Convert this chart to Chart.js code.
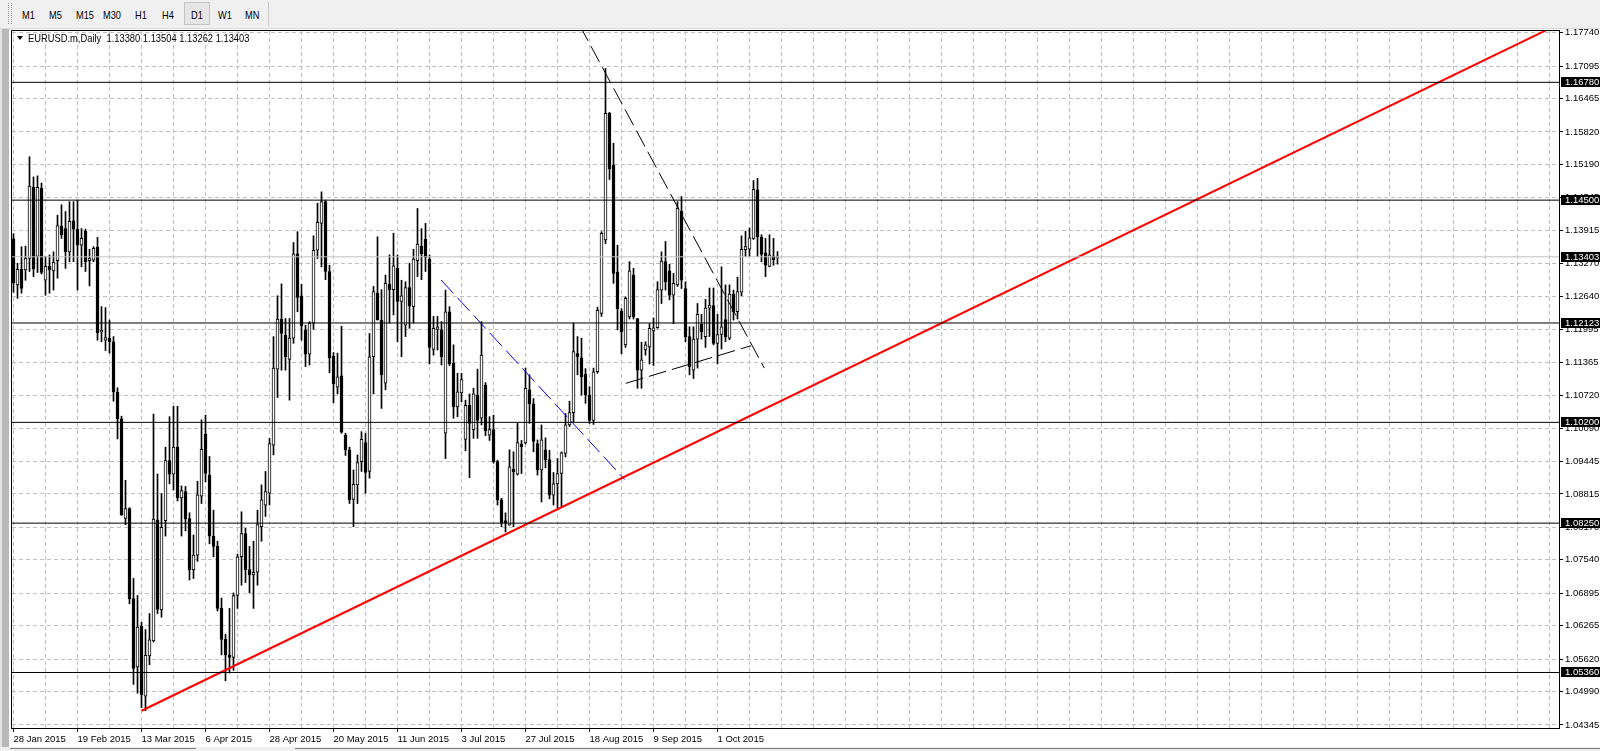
<!DOCTYPE html>
<html>
<head>
<meta charset="utf-8">
<script src="https://cdn.jsdelivr.net/npm/chart.js@4.4.0/dist/chart.umd.min.js"></script>
<style>
html,body{margin:0;padding:0;width:1600px;height:751px;overflow:hidden;background:#fff;}
body{font-family:'Liberation Sans',Arial,sans-serif;}
#c{position:absolute;left:0;top:0;}
#toolbar{position:absolute;left:0;top:0;width:1600px;height:28px;background:#f0f0f0;border-bottom:1px solid #d9d9d9;z-index:3;}
.tab{position:absolute;top:9px;font-size:11px;line-height:12px;color:#000;transform:scaleX(0.84);transform-origin:0 0;}
.grip{position:absolute;left:8px;top:3px;width:2px;height:21px;border-left:1px dotted #9a9a9a;border-right:1px dotted #9a9a9a;}
.pressed{position:absolute;left:184px;top:2px;width:24px;height:21px;background:#e6e6e6;border:1px solid #c4c4c4;}
.sep{position:absolute;left:268px;top:2px;width:0;height:24px;border-left:1px solid #c8c8c8;}
#leftstrip{position:absolute;left:0;top:29px;width:9px;height:722px;background:#b9b9b9;border-left:2px solid #e2e2e2;box-sizing:border-box;z-index:3;}
#bottomstrip{position:absolute;left:0;top:747px;width:1600px;height:4px;background:#f0f0f0;z-index:3;}
#bottomstrip .l1{position:absolute;left:10px;top:1px;width:186px;height:1px;background:#7a7a7a;}
#bottomstrip .l2{position:absolute;left:295px;top:1px;width:1305px;height:1px;background:#7a7a7a;}
#header{position:absolute;left:28px;top:32px;font-size:11px;line-height:12px;color:#000;z-index:3;white-space:pre;transform:scaleX(0.85);transform-origin:0 0;}
#tri{position:absolute;left:17px;top:36px;width:0;height:0;border-left:3px solid transparent;border-right:3px solid transparent;border-top:4px solid #000;z-index:3;}
</style>
</head>
<body>
<canvas id="c" width="1600" height="751"></canvas>
<div id="toolbar">
  <div class="grip"></div>
  <div class="pressed"></div>
  <span class="tab" style="left:22px">M1</span>
  <span class="tab" style="left:49px">M5</span>
  <span class="tab" style="left:76px">M15</span>
  <span class="tab" style="left:103px">M30</span>
  <span class="tab" style="left:135px">H1</span>
  <span class="tab" style="left:162px">H4</span>
  <span class="tab" style="left:191px">D1</span>
  <span class="tab" style="left:218px">W1</span>
  <span class="tab" style="left:245px">MN</span>
  <div class="sep"></div>
</div>
<div id="leftstrip"></div>
<div id="bottomstrip"><div class="l1"></div><div class="l2"></div></div>
<div id="tri"></div>
<div id="header"></div>
<script>
// ---------------- DATA ----------------
const symbolName = 'EURUSD.m';
const timeframeName = 'Daily';

// daily candles, bar 0 = 28 Jan 2015 ... bar 191 = 22 Oct 2015
const opens = [
1.1375,1.1286,1.1316,1.1315,1.1337,1.1475,1.1341,1.1473,1.1295,1.1322,
1.1313,1.1333,1.1400,1.1395,1.1350,1.1410,1.1394,1.1363,1.1390,1.1333,
1.1334,1.1359,1.1195,1.1179,1.1183,1.1176,1.1078,1.1027,1.0834,1.0853,
1.0679,1.0547,1.0626,1.0490,1.0568,1.0597,1.0831,1.0657,1.0830,1.0946,
1.0920,1.0972,1.0874,1.0886,1.0834,1.0735,1.0763,1.0877,1.0997,1.0918,
1.0800,1.0780,1.0660,1.0600,1.0570,1.0565,1.0685,1.0760,1.0805,1.0735,
1.0725,1.0730,1.0818,1.0860,1.0883,1.0976,1.1123,1.1220,1.1189,1.1142,
1.1183,1.1346,1.1265,1.1199,1.1152,1.1212,1.1353,1.1405,1.1447,1.1312,
1.1148,1.1088,1.1110,1.0995,1.0967,1.0871,1.0899,1.0944,1.0981,1.0925,
1.1147,1.1270,1.1218,1.1096,1.1287,1.1277,1.1318,1.1254,1.1208,1.1281,
1.1244,1.1333,1.1361,1.1374,1.1336,1.1161,1.1200,1.1199,1.0999,1.1234,
1.1134,1.1050,1.1077,1.0987,1.1053,1.1006,1.1073,1.1028,1.1092,1.0995,
1.1006,1.0944,1.0870,1.0830,1.0821,1.0929,1.0920,1.0978,1.0980,1.1083,
1.1056,1.0979,1.0928,1.0967,1.0948,1.0879,1.0901,1.0921,1.0960,1.1015,
1.1039,1.1153,1.1145,1.1113,1.1073,1.1024,1.1118,1.1231,1.1373,1.1618,
1.1518,1.1311,1.1235,1.1170,1.1224,1.1305,1.1221,1.1121,1.1160,1.1166,
1.1197,1.1203,1.1276,1.1331,1.1313,1.1266,1.1286,1.1429,1.1279,1.1186,
1.1121,1.1181,1.1210,1.1186,1.1241,1.1246,1.1173,1.1190,1.1219,1.1183,
1.1268,1.1234,1.1272,1.1354,1.1355,1.1376,1.1470,1.1378,1.1348,1.1322,
1.1342,1.13380
];
const highs = [
1.1385,1.1328,1.1360,1.1361,1.1534,1.1495,1.1497,1.1483,1.1341,1.1344,
1.1350,1.1421,1.1441,1.1428,1.1447,1.1447,1.1450,1.1395,1.1394,1.1355,
1.1360,1.1378,1.1244,1.1242,1.1218,1.1186,1.1087,1.1032,1.0908,1.0855,
1.0718,1.0685,1.0633,1.0619,1.0650,1.1036,1.0920,1.0882,1.0972,1.1031,
1.1051,1.1051,1.0897,1.0896,1.0845,1.0802,1.0906,1.1025,1.1034,1.0954,
1.0850,1.0790,1.0680,1.0610,1.0660,1.0690,1.0765,1.0847,1.0815,1.0780,
1.0790,1.0850,1.0899,1.0925,1.0989,1.1186,1.1265,1.1288,1.1221,1.1221,
1.1368,1.1389,1.1287,1.1208,1.1215,1.1381,1.1444,1.1466,1.1450,1.1324,
1.1155,1.1154,1.1206,1.0999,1.0972,1.0928,1.0957,1.1002,1.0999,1.1192,
1.1283,1.1379,1.1277,1.1305,1.1344,1.1386,1.1344,1.1295,1.1292,1.1328,
1.1355,1.1434,1.1395,1.1405,1.1344,1.1225,1.1225,1.1215,1.1276,1.1244,
1.1170,1.1115,1.1115,1.1063,1.1075,1.1086,1.1123,1.1215,1.1097,1.1031,
1.1034,1.0947,1.0873,1.0845,1.0967,1.0963,1.1018,1.0985,1.1125,1.1112,
1.1066,1.0986,1.1015,1.0990,1.0966,1.0923,1.0950,1.0963,1.1037,1.1061,
1.1212,1.1186,1.1183,1.1124,1.1089,1.1125,1.1243,1.1389,1.1705,1.1620,
1.1560,1.1363,1.1240,1.1263,1.1331,1.1318,1.1221,1.1175,1.1176,1.1211,
1.1222,1.1292,1.1350,1.1370,1.1326,1.1308,1.1447,1.1457,1.1292,1.1205,
1.1205,1.1250,1.1229,1.1258,1.1280,1.1280,1.1229,1.1321,1.1286,1.1286,
1.1276,1.1301,1.1381,1.1390,1.1396,1.1488,1.1492,1.1383,1.1376,1.1383,
1.1376,1.13504
];
const lows = [
1.1272,1.1260,1.1270,1.1295,1.1312,1.1302,1.1310,1.1307,1.1266,1.1270,
1.1276,1.1299,1.1376,1.1318,1.1331,1.1331,1.1276,1.1321,1.1312,1.1284,
1.1331,1.1179,1.1176,1.1159,1.1154,1.1061,1.0988,1.0840,1.0822,1.0669,
1.0513,1.0496,1.0468,1.0462,1.0551,1.0595,1.0650,1.0643,1.0800,1.0901,
1.0889,1.0868,1.0800,1.0810,1.0715,1.0718,1.0751,1.0863,1.0905,1.0785,
1.0760,1.0655,1.0570,1.0520,1.0535,1.0540,1.0660,1.0705,1.0710,1.0690,
1.0660,1.0705,1.0790,1.0838,1.0860,1.0957,1.1068,1.1121,1.1121,1.1063,
1.1173,1.1234,1.1179,1.1128,1.1131,1.1200,1.1337,1.1321,1.1296,1.1116,
1.1058,1.1075,1.0999,1.0956,1.0863,1.0818,1.0863,1.0925,1.0883,1.0912,
1.1075,1.1218,1.1047,1.1083,1.1212,1.1228,1.1176,1.1147,1.1186,1.1202,
1.1212,1.1302,1.1296,1.1312,1.1133,1.1150,1.1160,1.1131,1.0950,1.1130,
1.1028,1.1031,1.1060,1.0965,1.0913,1.0989,1.0989,1.1015,1.0994,1.0985,
1.0941,1.0860,1.0818,1.0808,1.0821,1.0818,1.0918,1.0921,1.0978,1.1018,
1.0963,1.0918,1.0866,1.0932,1.0872,1.0860,1.0854,1.0857,1.0953,1.1012,
1.1021,1.1112,1.1073,1.1057,1.1018,1.1016,1.1115,1.1225,1.1366,1.1490,
1.1289,1.1199,1.1153,1.1165,1.1220,1.1220,1.1086,1.1086,1.1150,1.1133,
1.1130,1.1202,1.1250,1.1276,1.1257,1.1211,1.1283,1.1279,1.1176,1.1112,
1.1105,1.1125,1.1181,1.1165,1.1186,1.1170,1.1133,1.1162,1.1176,1.1180,
1.1218,1.1220,1.1265,1.1341,1.1341,1.1374,1.1341,1.1331,1.1302,1.1321,
1.1324,1.13262
];
const closes = [
1.1290,1.1316,1.1279,1.1338,1.1477,1.1317,1.1475,1.1310,1.1322,1.1315,
1.1330,1.1401,1.1383,1.1350,1.1409,1.1394,1.1363,1.1376,1.1331,1.1338,
1.1357,1.1193,1.1198,1.1184,1.1176,1.1079,1.1027,1.0841,1.0853,1.0679,
1.0544,1.0624,1.0493,1.0569,1.0599,1.0833,1.0658,1.0817,1.0946,1.0920,
1.0972,1.0874,1.0888,1.0833,1.0735,1.0763,1.0880,1.0968,1.0921,1.0800,
1.0780,1.0660,1.0600,1.0570,1.0565,1.0685,1.0760,1.0805,1.0735,1.0725,
1.0730,1.0822,1.0870,1.0886,1.0979,1.1125,1.1220,1.1192,1.1147,1.1183,
1.1346,1.1262,1.1207,1.1152,1.1212,1.1353,1.1407,1.1447,1.1312,1.1145,
1.1095,1.1108,1.1001,1.0967,1.0870,1.0900,1.0942,1.0987,1.0923,1.1147,
1.1273,1.1218,1.1112,1.1289,1.1277,1.1323,1.1254,1.1265,1.1281,1.1245,
1.1336,1.1365,1.1346,1.1339,1.1165,1.1202,1.1205,1.1147,1.1234,1.1133,
1.1050,1.1079,1.1103,1.1053,1.1018,1.1075,1.1024,1.1150,1.1004,1.1006,
1.0944,1.0870,1.0825,1.0826,1.0934,1.0924,1.0981,1.0973,1.1086,1.1056,
1.0983,1.0928,1.0986,1.0948,1.0879,1.0901,1.0921,1.0961,1.1015,1.1039,
1.1157,1.1147,1.1108,1.1073,1.1024,1.1118,1.1237,1.1386,1.1618,1.1511,
1.1308,1.1240,1.1195,1.1260,1.1313,1.1224,1.1121,1.1141,1.1170,1.1202,
1.1203,1.1277,1.1332,1.1292,1.1266,1.1289,1.1434,1.1295,1.1186,1.1128,
1.1181,1.1229,1.1195,1.1241,1.1247,1.1173,1.1190,1.1205,1.1186,1.1268,
1.1234,1.1273,1.1355,1.1360,1.1377,1.1471,1.1379,1.1345,1.1324,1.1344,
1.1335,1.13403
];

// time axis labels (bar index of each label)
const dateLabels = ['28 Jan 2015','19 Feb 2015','13 Mar 2015','6 Apr 2015','28 Apr 2015','20 May 2015',
                    '11 Jun 2015','3 Jul 2015','27 Jul 2015','18 Aug 2015','9 Sep 2015','1 Oct 2015'];
const dateLabelBars = [0,16,32,48,64,80,96,112,128,144,160,176];

// price axis tick labels
const priceTicks = [1.17740,1.17095,1.16465,1.15820,1.15190,1.14545,1.13915,1.13270,1.12640,1.11995,1.11365,
                    1.10720,1.10090,1.09445,1.08815,1.08170,1.07540,1.06895,1.06265,1.05620,1.04990,1.04345];

// horizontal levels and bid
const levelPrices = [1.16780,1.14500,1.12123,1.10200,1.08250,1.05360];
const bidPrice = 1.13403;

// trend lines (bar index, price)
const redTrendBars = [32, 384];
const redTrendPrices = [1.0462, 1.1782];
const blueTrendBars = [106.9, 152.8];
const blueTrendPrices = [1.12955, 1.09094];
const upperTrendBars = [141.5, 187.7];
const upperTrendPrices = [1.1789, 1.1125];
const lowerTrendBars = [153.1, 184.4];
const lowerTrendPrices = [1.10956, 1.11683];

// ---------------- CHART ----------------
const N = opens.length;
const X_MIN = -0.375, X_MAX = 386.375;
const Y_MIN = 1.04286, Y_MAX = 1.17773;
const gridBars = [];
for (let b = 0; b <= 384; b += 8) gridBars.push(b);

document.getElementById('header').textContent =
  symbolName + ',' + timeframeName + '  ' + opens[N-1].toFixed(5) + ' ' + highs[N-1].toFixed(5) + ' ' +
  lows[N-1].toFixed(5) + ' ' + closes[N-1].toFixed(5);

const FONT = "'Liberation Sans',Arial,sans-serif";
const AXIS_FONT_SIZE = 9.5;
Chart.defaults.font.family = FONT;
Chart.defaults.font.size = AXIS_FONT_SIZE;
Chart.defaults.color = '#000';

function seg(bars, prices) { return bars.map((b, k) => ({x: b, y: prices[k]})); }

const datasets = [];
levelPrices.forEach(p => datasets.push({
  type: 'line', data: seg([X_MIN, X_MAX], [p, p]), borderColor: '#000', borderWidth: 1,
  pointRadius: 0, order: 0, clip: 0
}));
datasets.push({type: 'line', data: seg([X_MIN, X_MAX], [bidPrice, bidPrice]), borderColor: '#c0c0c0',
  borderWidth: 1, pointRadius: 0, order: 0, clip: 0});
datasets.push({type: 'line', data: seg(redTrendBars, redTrendPrices), borderColor: '#ff0000', borderWidth: 2,
  pointRadius: 0, order: 0, clip: 0});
datasets.push({type: 'line', data: seg(blueTrendBars, blueTrendPrices), borderColor: '#0000ff', borderWidth: 1,
  borderDash: [18, 6], pointRadius: 0, order: 0, clip: 0});
datasets.push({type: 'line', data: seg(upperTrendBars, upperTrendPrices), borderColor: '#000', borderWidth: 1,
  borderDash: [18, 6], pointRadius: 0, order: 0, clip: 0});
datasets.push({type: 'line', data: seg(lowerTrendBars, lowerTrendPrices), borderColor: '#000', borderWidth: 1,
  borderDash: [18, 6], pointRadius: 0, order: 0, clip: 0});
// candle bodies
datasets.push({
  type: 'bar', order: 1, grouped: false, barThickness: 3, minBarLength: 1,
  data: opens.map((o, i) => ({x: i, y: [o, closes[i]]})),
  backgroundColor: opens.map((o, i) => closes[i] >= o ? '#ffffff' : '#000000'),
  borderColor: '#000', borderWidth: 1, borderSkipped: false
});
// wicks
datasets.push({
  type: 'bar', order: 2, grouped: false, barThickness: 1,
  data: lows.map((l, i) => ({x: i, y: [l, highs[i]]})),
  backgroundColor: '#000', borderWidth: 0
});

const framePlugin = {
  id: 'frame',
  afterDraw(chart) {
    const ctx = chart.ctx, a = chart.chartArea;
    ctx.save();
    ctx.strokeStyle = '#000'; ctx.lineWidth = 1;
    ctx.beginPath();
    ctx.moveTo(a.left - 0.5, a.top - 1); ctx.lineTo(a.left - 0.5, a.bottom + 1);
    ctx.moveTo(a.left - 1, a.top - 0.5); ctx.lineTo(a.right + 1, a.top - 0.5);
    ctx.stroke();
    const ys = chart.scales.y;
    const boxes = levelPrices.concat([bidPrice]);
    ctx.font = AXIS_FONT_SIZE + 'px ' + FONT;
    ctx.textBaseline = 'middle';
    ctx.textAlign = 'left';
    boxes.forEach(p => {
      const y = Math.round(ys.getPixelForValue(p));
      ctx.fillStyle = '#000';
      ctx.fillRect(a.right + 2, y - 5, 1600 - a.right - 2, 10);
      ctx.fillStyle = '#fff';
      ctx.fillText(p.toFixed(5), a.right + 6, y + 0.5);
    });
    ctx.restore();
  }
};

new Chart(document.getElementById('c'), {
  type: 'bar',
  data: { datasets },
  plugins: [framePlugin],
  options: {
    responsive: false,
    devicePixelRatio: 1,
    animation: false,
    events: [],
    layout: { padding: { top: 31, left: 12, right: 0, bottom: 5 } },
    plugins: { legend: { display: false }, tooltip: { enabled: false } },
    scales: {
      x: {
        type: 'linear', min: X_MIN, max: X_MAX, offset: false,
        afterBuildTicks: s => { s.ticks = gridBars.map(v => ({value: v})); },
        afterFit: s => { s.height = 18; },
        grid: { offset: false, color: '#c0c0c0', lineWidth: 1, drawTicks: true, tickLength: 4,
                tickColor: c => (c.tick && dateLabelBars.includes(c.tick.value)) ? '#000' : 'rgba(0,0,0,0)' },
        border: { display: true, color: '#000', width: 1, dash: [4, 3] },
        ticks: { autoSkip: false, maxRotation: 0, minRotation: 0, align: 'start', padding: 2,
                 callback: v => { const k = dateLabelBars.indexOf(v); return k >= 0 ? dateLabels[k] : ''; } }
      },
      y: {
        type: 'linear', position: 'right', min: Y_MIN, max: Y_MAX,
        afterBuildTicks: s => { s.ticks = priceTicks.map(v => ({value: v})); },
        afterFit: s => { s.width = 41; },
        grid: { color: '#c0c0c0', lineWidth: 1, drawTicks: true, tickLength: 4, tickColor: '#000' },
        border: { display: true, color: '#000', width: 1, dash: [4, 3] },
        ticks: { autoSkip: false, padding: 2, callback: v => Number(v).toFixed(5) }
      }
    }
  }
});
</script>
</body>
</html>
